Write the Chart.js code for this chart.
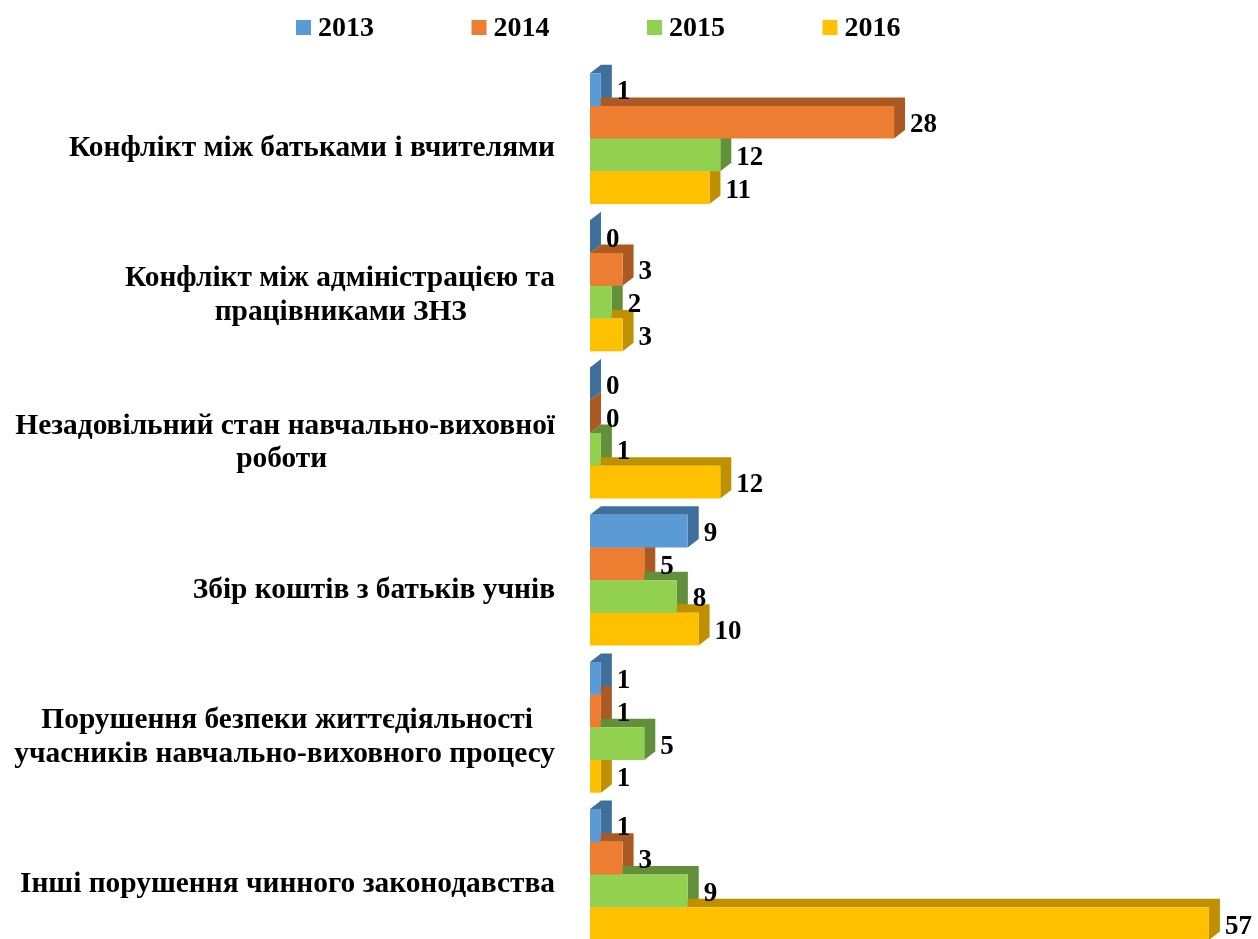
<!DOCTYPE html>
<html>
<head>
<meta charset="utf-8">
<title>Chart</title>
<script src="https://cdn.jsdelivr.net/npm/chart.js@4"></script>
<style>
  html, body { margin: 0; padding: 0; background: #fff; overflow: hidden; height: 939px; }
  canvas { display: block; }
</style>
</head>
<body>
<canvas id="myChart" width="1258" height="1000"></canvas>
<script>
const categories = [
  ["Конфлікт між батьками і вчителями"],
  ["Конфлікт між адміністрацією та", "працівниками ЗНЗ"],
  ["Незадовільний стан навчально-виховної", "роботи"],
  ["Збір коштів з батьків учнів"],
  ["Порушення безпеки життєдіяльності", "учасників навчально-виховного процесу"],
  ["Інші порушення чинного законодавства"],
];
const years = ["2013", "2014", "2015", "2016"];
const values2013 = [1, 0, 0, 9, 1, 1];
const values2014 = [28, 3, 0, 5, 1, 3];
const values2015 = [12, 2, 1, 8, 5, 9];
const values2016 = [11, 3, 12, 10, 1, 57];
const frontColors = ["#5B9BD5", "#ED7D31", "#92D050", "#FFC000"];
const sideColors = ["#3F6F9B", "#AB5A23", "#62903A", "#BF9000"];

const fontFamily = '"Liberation Serif", serif';
const depthX = 11;
const depthY = 8.5;

// second line of a label is centred on the first one, ticks only do right align
const measure = document.createElement("canvas").getContext("2d");
measure.font = "bold 29.4px " + fontFamily;
function centerLines(lines) {
  const widest = Math.max(...lines.map((l) => measure.measureText(l).width));
  const nbsp = measure.measureText("\u00A0").width;
  return lines.map((l) => {
    const gap = (widest - measure.measureText(l).width) / 2;
    return l + "\u00A0".repeat(Math.round(gap / nbsp));
  });
}

// side and top faces, under all the front faces
const depthFaces = {
  id: "depthFaces",
  beforeDatasetsDraw(chart) {
    const ctx = chart.ctx;
    ctx.save();
    chart.data.datasets.forEach((ds, i) => {
      ctx.fillStyle = sideColors[i];
      chart.getDatasetMeta(i).data.forEach((bar) => {
        const top = bar.y - bar.height / 2;
        const bottom = bar.y + bar.height / 2;
        ctx.beginPath();
        ctx.moveTo(bar.base, top);
        ctx.lineTo(bar.base + depthX, top - depthY);
        ctx.lineTo(bar.x + depthX, top - depthY);
        ctx.lineTo(bar.x + depthX, bottom - depthY);
        ctx.lineTo(bar.x, bottom);
        ctx.lineTo(bar.x, top);
        ctx.closePath();
        ctx.fill();
      });
    });
    ctx.restore();
  },
};

// value labels and the legend row
const labelsAndLegend = {
  id: "labelsAndLegend",
  afterDatasetsDraw(chart) {
    const ctx = chart.ctx;
    ctx.save();
    ctx.fillStyle = "#000";
    ctx.font = "bold 27px " + fontFamily;
    ctx.textAlign = "left";
    ctx.textBaseline = "middle";
    chart.data.datasets.forEach((ds, i) => {
      chart.getDatasetMeta(i).data.forEach((bar, j) => {
        ctx.fillText(ds.data[j], bar.x + depthX + 5, bar.y + 3);
      });
    });
    ctx.font = "bold 28px " + fontFamily;
    chart.data.datasets.forEach((ds, i) => {
      const left = 296 + i * 175.5;
      ctx.fillStyle = frontColors[i];
      ctx.fillRect(left, 20, 15, 15);
      ctx.fillStyle = "#000";
      ctx.fillText(ds.label, left + 22, 28.5);
    });
    ctx.restore();
  },
};

const ctx = document.getElementById("myChart").getContext("2d");
const myChart = new Chart(ctx, {
  type: "bar",
  data: {
    labels: categories,
    datasets: [values2013, values2014, values2015, values2016].map((vals, i) => ({
      label: years[i],
      data: vals,
      backgroundColor: frontColors[i],
      borderWidth: 0,
      categoryPercentage: 0.889,
      barPercentage: 1,
    })),
  },
  options: {
    indexAxis: "y",
    responsive: false,
    animation: false,
    layout: { padding: { top: 65, right: 16.5, bottom: 0, left: 0 } },
    plugins: {
      legend: { display: false },
      title: { display: false },
      tooltip: { enabled: false },
    },
    scales: {
      x: { display: false, min: 0, max: 60 },
      y: {
        afterFit(scale) {
          scale.width = 590;
        },
        border: { display: false },
        grid: { display: false, drawTicks: false },
        ticks: {
          padding: 35,
          labelOffset: 10,
          color: "#000",
          autoSkip: false,
          font: { family: fontFamily, weight: "bold", size: 29.4, lineHeight: 1.15 },
          callback(value, index) {
            return centerLines(categories[index]);
          },
        },
      },
    },
  },
  plugins: [depthFaces, labelsAndLegend],
});
</script>
</body>
</html>
